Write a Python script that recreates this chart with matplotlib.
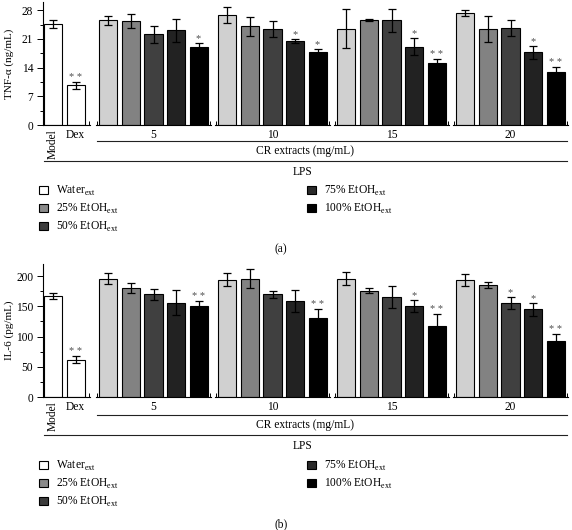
import matplotlib.pyplot as plt
from matplotlib.lines import Line2D
from matplotlib.patches import Patch
from matplotlib.ticker import MultipleLocator

plt.rcParams['font.family'] = 'Liberation Serif'
plt.rcParams['mathtext.fontset'] = 'custom'
plt.rcParams['mathtext.rm'] = 'Liberation Serif'
plt.rcParams['font.size'] = 8.3

ctrl_labels = ['Model', 'Dex']
conc_labels = ['5', '10', '15', '20']
extract_labels = ['Water$_{\\mathrm{ext}}$', '25% EtOH$_{\\mathrm{ext}}$', '50% EtOH$_{\\mathrm{ext}}$',
                  '75% EtOH$_{\\mathrm{ext}}$', '100% EtOH$_{\\mathrm{ext}}$']

# TNF-alpha (ng/mL)
tnf_ctrl = [24.6, 9.7]
tnf_ctrl_err = [1.0, 0.9]
tnf_ctrl_sig = ['', '**']
tnf_vals = [[25.6, 25.4, 22.1, 23.1, 19.1],
            [26.9, 24.1, 23.4, 20.5, 17.7],
            [23.5, 25.6, 25.6, 19.1, 15.2],
            [27.4, 23.5, 23.7, 17.7, 13.0]]
tnf_err = [[1.1, 1.7, 2.1, 2.8, 0.8],
           [1.9, 2.3, 2.0, 0.4, 0.9],
           [4.7, 0.3, 2.8, 2.0, 0.8],
           [0.7, 3.2, 2.0, 1.5, 1.2]]
tnf_sig = [['', '', '', '', '*'],
           ['', '', '', '*', '*'],
           ['', '', '', '*', '**'],
           ['', '', '', '*', '**']]

# IL-6 (pg/mL)
il6_ctrl = [167, 62]
il6_ctrl_err = [5, 5]
il6_ctrl_sig = ['', '**']
il6_vals = [[196, 180, 170, 156, 150],
            [194, 196, 170, 159, 131],
            [196, 176, 166, 150, 118],
            [193, 185, 155, 145, 93]]
il6_err = [[9, 8, 9, 21, 9],
           [11, 15, 6, 18, 14],
           [11, 4, 18, 10, 19],
           [10, 5, 10, 11, 12]]
il6_sig = [['', '', '', '', '**'],
           ['', '', '', '', '**'],
           ['', '', '', '*', '**'],
           ['', '', '*', '*', '**']]

bar_colors = ['#d0d0d0', '#828282', '#404040', '#222222', '#000000']
legend_colors = ['#ffffff', '#8a8a8a', '#3c3c3c', '#2a2a2a', '#000000']

W, H = 572, 530
fig = plt.figure(figsize=(W / 100, H / 100), dpi=100)


def rect(x0, x1, ytop, ybot):
    return [x0 / W, 1 - ybot / H, (x1 - x0) / W, (ybot - ytop) / H]


def stars(ax, xs, tops, sig):
    for x, t, s in zip(xs, tops, sig):
        if s:
            ax.annotate(s.replace('**', '* *'), (x, t), xytext=(0, 0), textcoords='offset points',
                        ha='center', va='bottom', fontsize=7.5, color='#505050')


def panel(ytop, ybot, ymax, major, ylabel, ctrl, ctrl_err, ctrl_sig, vals, errs, sigs,
          y_line1, y_line2, y_leg, y_tag, tag):
    ekw = dict(ecolor='black', elinewidth=0.9, capsize=3, capthick=0.9)
    ax0 = fig.add_axes(rect(43, 90, ytop, ybot))
    xs = range(len(ctrl))
    ax0.bar(xs, ctrl, 0.8, yerr=ctrl_err, color='white', edgecolor='black', linewidth=0.8,
            error_kw=ekw)
    stars(ax0, xs, [v + e for v, e in zip(ctrl, ctrl_err)], ctrl_sig)
    ax0.set_xlim(-0.44, 1.64)
    ax0.set_ylim(0, ymax)
    ax0.yaxis.set_major_locator(MultipleLocator(major))
    ax0.yaxis.set_minor_locator(MultipleLocator(major / 2))
    ax0.tick_params(axis='y', length=4, width=0.7, pad=3)
    ax0.tick_params(axis='y', which='minor', length=2, width=0.7)
    ax0.set_xticks(list(xs))
    ax0.set_xticklabels(ctrl_labels)
    ax0.xaxis.get_ticklabels()[0].set_rotation(90)
    ax0.set_xticks([1.6], minor=True)
    ax0.tick_params(axis='x', which='major', length=0, pad=3)
    ax0.tick_params(axis='x', which='minor', direction='in', length=3, width=0.7)
    ax0.set_ylabel(ylabel, fontsize=8)
    ax0.yaxis.set_label_coords(-29 / 47, 0.5)
    for sp in ['top', 'right']:
        ax0.spines[sp].set_visible(False)
    for sp in ['left', 'bottom']:
        ax0.spines[sp].set_linewidth(0.8)

    for i, start in enumerate([96, 215, 334, 453]):
        ax = fig.add_axes(rect(start, start + 115, ytop, ybot))
        xs = range(5)
        ax.bar(xs, vals[i], 0.8, yerr=errs[i], color=bar_colors, edgecolor='black',
               linewidth=0.8, error_kw=ekw)
        stars(ax, xs, [v + e for v, e in zip(vals[i], errs[i])], sigs[i])
        ax.set_xlim(-0.55, 4.55)
        ax.set_ylim(0, ymax)
        ax.set_yticks([])
        ax.set_xticks([2])
        ax.set_xticklabels([conc_labels[i]])
        ax.set_xticks([-0.52, 4.52], minor=True)
        ax.tick_params(axis='x', which='major', length=0, pad=3)
        ax.tick_params(axis='x', which='minor', direction='in', length=3, width=0.7)
        for sp in ['top', 'right', 'left']:
            ax.spines[sp].set_visible(False)
        ax.spines['bottom'].set_linewidth(0.8)

    fig.add_artist(Line2D([97 / W, 567 / W], [1 - y_line1 / H] * 2, color='#222222', lw=0.8))
    fig.add_artist(Line2D([44 / W, 567 / W], [1 - y_line2 / H] * 2, color='#222222', lw=0.8))
    fig.text(305 / W, 1 - (y_line1 + 10) / H, 'CR extracts (mg/mL)', ha='center', va='center')
    fig.text(303 / W, 1 - (y_line2 + 11) / H, 'LPS', ha='center', va='center')

    handles = [Patch(facecolor=c, edgecolor='black', linewidth=0.8) for c in legend_colors]
    kw = dict(frameon=False, handlelength=0.75, handleheight=0.75, handletextpad=0.75,
              labelspacing=0.35, borderpad=0, borderaxespad=0, loc='upper left')
    fig.legend(handles[:3], extract_labels[:3], bbox_to_anchor=(39 / W, 1 - y_leg / H), **kw)
    fig.legend(handles[3:], extract_labels[3:], bbox_to_anchor=(307 / W, 1 - y_leg / H), **kw)
    fig.text(281 / W, 1 - y_tag / H, tag, ha='center', va='center')


panel(2, 125, 30, 7, 'TNF-α (ng/mL)', tnf_ctrl, tnf_ctrl_err, tnf_ctrl_sig,
      tnf_vals, tnf_err, tnf_sig, 141, 161, 184, 249, '(a)')
panel(264, 397, 220, 50, 'IL-6 (pg/mL)', il6_ctrl, il6_ctrl_err, il6_ctrl_sig,
      il6_vals, il6_err, il6_sig, 415, 435, 459, 524, '(b)')

fig.savefig('out.png', dpi=100)
